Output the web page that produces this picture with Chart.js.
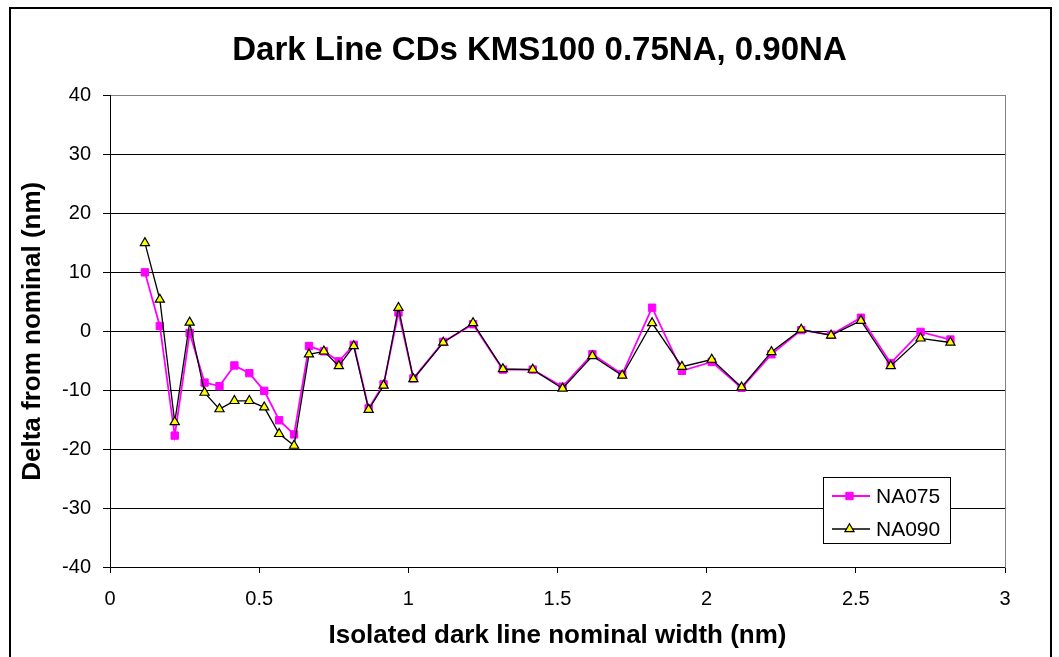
<!DOCTYPE html>
<html>
<head>
<meta charset="utf-8">
<title>Dark Line CDs KMS100 0.75NA, 0.90NA</title>
<script src="https://cdn.jsdelivr.net/npm/chart.js@4.4.1/dist/chart.umd.min.js"></script>
<style>
  html, body { margin: 0; padding: 0; background: #ffffff; }
  canvas { display: block; }
</style>
</head>
<body>
<canvas id="cd" width="1059" height="657"></canvas>
<script>
// Nominal isolated dark line widths (nm)
const widths = [0.117, 0.167, 0.217, 0.267, 0.317, 0.367, 0.417, 0.467, 0.517, 0.567,
                0.617, 0.667, 0.717, 0.767, 0.817, 0.867, 0.917, 0.967, 1.017, 1.117,
                1.217, 1.317, 1.417, 1.517, 1.617, 1.717, 1.817, 1.917, 2.017, 2.117,
                2.217, 2.317, 2.417, 2.517, 2.617, 2.717, 2.817];

// Measured CD minus nominal (nm), 0.75 NA
const na075 = [10.0, 0.9, -17.7, -0.3, -8.7, -9.3, -5.8, -7.1, -10.1, -15.1,
               -17.5, -2.5, -3.4, -5.1, -2.3, -13.1, -9.0, 3.2, -8.0, -1.8,
               1.2, -6.5, -6.5, -9.4, -3.9, -7.3, 4.0, -6.7, -5.2, -9.6,
               -3.9, 0.2, -0.6, 2.3, -5.4, -0.1, -1.4];

// Measured CD minus nominal (nm), 0.90 NA
const na090 = [15.0, 5.4, -15.4, 1.5, -10.4, -13.2, -11.8, -11.8, -12.9, -17.4,
               -19.4, -3.9, -3.4, -5.9, -2.5, -13.3, -9.2, 4.0, -8.1, -1.9,
               1.4, -6.4, -6.5, -9.7, -4.2, -7.5, 1.4, -6.0, -4.8, -9.5,
               -3.5, 0.3, -0.7, 1.8, -5.9, -1.2, -1.9];

const seriesNames = ['NA075', 'NA090'];
const xTickValues = [0, 0.5, 1, 1.5, 2, 2.5, 3];
const yTickValues = [-40, -30, -20, -10, 0, 10, 20, 30, 40];

const FONT = "'Liberation Sans', Arial, Helvetica, sans-serif";

function pairs(xs, ys) {
  return xs.map((x, i) => ({ x: x, y: ys[i] }));
}

// White page with the outer frame of the chart object
const frame = {
  id: 'frame',
  beforeDraw(chart) {
    const ctx = chart.ctx;
    ctx.save();
    ctx.fillStyle = '#ffffff';
    ctx.fillRect(0, 0, chart.width, chart.height);
    ctx.strokeStyle = '#000000';
    ctx.lineWidth = 2;
    ctx.strokeRect(10, 8, 1041, 700);
    ctx.restore();
  }
};

// Boxed legend sitting inside the plot area, lower right
function marker(ctx, ds, x, y) {
  const opts = {
    pointStyle: ds.pointStyle,
    radius: ds.pointRadius,
    rotation: 0,
    borderWidth: ds.pointBorderWidth
  };
  ctx.fillStyle = ds.pointBackgroundColor;
  ctx.strokeStyle = ds.pointBorderColor;
  ctx.lineWidth = ds.pointBorderWidth;
  if (Chart.helpers && Chart.helpers.drawPoint) {
    Chart.helpers.drawPoint(ctx, opts, x, y);
    return;
  }
  const r = ds.pointRadius;
  ctx.beginPath();
  if (ds.pointStyle === 'triangle') {
    ctx.moveTo(x, y - r);
    ctx.lineTo(x + r * Math.sin(2 * Math.PI / 3), y - r * Math.cos(2 * Math.PI / 3));
    ctx.lineTo(x + r * Math.sin(4 * Math.PI / 3), y - r * Math.cos(4 * Math.PI / 3));
    ctx.closePath();
  } else {
    const s = r * Math.SQRT1_2;
    ctx.rect(x - s, y - s, 2 * s, 2 * s);
  }
  ctx.fill();
  ctx.stroke();
}

const boxLegend = {
  id: 'boxLegend',
  afterDraw(chart) {
    const ctx = chart.ctx;
    const box = { x: 823.5, y: 477.5, w: 127, h: 66 };
    ctx.save();
    ctx.fillStyle = '#ffffff';
    ctx.fillRect(box.x, box.y, box.w, box.h);
    ctx.strokeStyle = '#000000';
    ctx.lineWidth = 1;
    ctx.strokeRect(box.x, box.y, box.w, box.h);
    const rows = [496, 529];
    seriesNames.forEach((name, i) => {
      const ds = chart.data.datasets.find(d => d.label === name);
      const y = rows[i];
      ctx.strokeStyle = ds.borderColor;
      ctx.lineWidth = ds.borderWidth;
      ctx.beginPath();
      ctx.moveTo(832, y);
      ctx.lineTo(870, y);
      ctx.stroke();
      marker(ctx, ds, 849.5, y);
      ctx.fillStyle = '#000000';
      ctx.font = '21px ' + FONT;
      ctx.textAlign = 'left';
      ctx.textBaseline = 'middle';
      ctx.fillText(name, 876, y + 1);
    });
    ctx.restore();
  }
};

new Chart(document.getElementById('cd'), {
  type: 'line',
  data: {
    datasets: [
      {
        label: seriesNames[0],
        data: pairs(widths, na075),
        borderColor: '#ff00ff',
        borderWidth: 1.8,
        pointStyle: 'rect',
        pointRadius: 5.2,
        pointBackgroundColor: '#ff00ff',
        pointBorderColor: '#ff00ff',
        pointBorderWidth: 1,
        tension: 0,
        order: 1
      },
      {
        label: seriesNames[1],
        data: pairs(widths, na090),
        borderColor: '#000000',
        borderWidth: 1.3,
        pointStyle: 'triangle',
        pointRadius: 5.3,
        pointBackgroundColor: '#ffff00',
        pointBorderColor: '#000000',
        pointBorderWidth: 1.2,
        tension: 0,
        order: 0
      }
    ]
  },
  options: {
    responsive: false,
    animation: false,
    devicePixelRatio: 1,
    layout: { padding: { left: 20, right: 0, top: 8, bottom: 0 } },
    plugins: {
      legend: { display: false },
      tooltip: { enabled: false },
      title: {
        display: true,
        text: 'Dark Line CDs KMS100 0.75NA, 0.90NA',
        color: '#000000',
        font: { family: FONT, size: 33, weight: 'bold', lineHeight: 1.2 },
        padding: { top: 23, bottom: 25 }
      }
    },
    scales: {
      x: {
        type: 'linear',
        position: 'bottom',
        min: 0,
        max: 3,
        afterBuildTicks(scale) { scale.ticks = xTickValues.map(v => ({ value: v })); },
        afterFit(scale) { scale.height = 90; },
        ticks: {
          color: '#000000',
          font: { family: FONT, size: 20 },
          padding: 14,
          maxRotation: 0,
          callback: v => String(v)
        },
        grid: {
          drawOnChartArea: false,
          drawTicks: true,
          tickLength: 6,
          color: '#000000',
          tickColor: '#000000'
        },
        border: { display: true, color: '#000000', width: 1 },
        title: {
          display: true,
          text: 'Isolated dark line nominal width (nm)',
          color: '#000000',
          font: { family: FONT, size: 26, weight: 'bold', lineHeight: 1 },
          padding: { top: 0, bottom: 8 }
        }
      },
      y: {
        type: 'linear',
        position: 'left',
        min: -40,
        max: 40,
        afterBuildTicks(scale) { scale.ticks = yTickValues.map(v => ({ value: v })); },
        afterFit(scale) { scale.width = 90; },
        ticks: {
          color: '#000000',
          font: { family: FONT, size: 20 },
          padding: 12,
          callback: v => String(v)
        },
        grid: {
          drawTicks: true,
          tickLength: 7,
          color: ctx => (ctx.tick && ctx.tick.value === 40) ? '#808080' : '#000000',
          tickColor: '#000000',
          lineWidth: 1
        },
        border: { display: true, color: '#000000', width: 1 },
        title: {
          display: true,
          text: 'Delta from nominal (nm)',
          color: '#000000',
          font: { family: FONT, size: 26, weight: 'bold', lineHeight: 1 },
          padding: { top: 0, bottom: 0 }
        }
      },
      edge: {
        type: 'linear',
        position: 'right',
        display: true,
        afterFit(scale) { scale.width = 54; },
        ticks: { display: false },
        grid: { display: false, drawOnChartArea: false, drawTicks: false },
        border: { display: true, color: '#808080', width: 1 }
      }
    }
  },
  plugins: [frame, boxLegend]
});
</script>
</body>
</html>
